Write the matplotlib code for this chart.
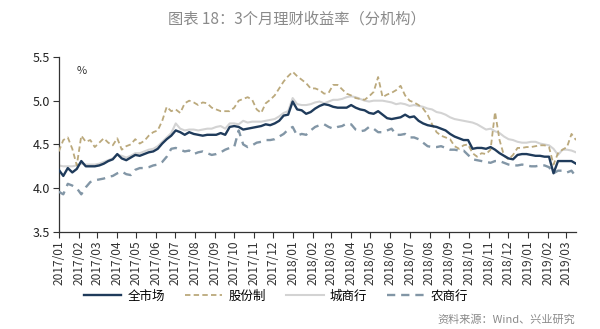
import numpy as np
import pandas as pd
import matplotlib
matplotlib.use("Agg")
import matplotlib.pyplot as plt
import matplotlib.dates as mdates

plt.rcParams['font.family'] = ['Noto Sans CJK SC', 'DejaVu Sans']

dates = pd.date_range("2017-01-01", periods=116, freq="W-SUN")

quanshichang = [
    4.21, 4.14, 4.23, 4.18, 4.22, 4.31, 4.25, 4.25, 4.25, 4.26,
    4.28, 4.31, 4.33, 4.39, 4.34, 4.32, 4.35, 4.38, 4.37, 4.39,
    4.41, 4.42, 4.45, 4.51, 4.56, 4.60, 4.66, 4.64, 4.61, 4.64,
    4.62, 4.61, 4.60, 4.61, 4.61, 4.61, 4.63, 4.61, 4.70, 4.71,
    4.70, 4.67, 4.68, 4.69, 4.70, 4.71, 4.73, 4.72, 4.74, 4.77,
    4.83, 4.84, 4.99, 4.90, 4.89, 4.85, 4.87, 4.91, 4.94, 4.96,
    4.95, 4.93, 4.92, 4.92, 4.92, 4.95, 4.92, 4.90, 4.89, 4.86,
    4.85, 4.88, 4.84, 4.80, 4.79, 4.80, 4.81, 4.84, 4.81, 4.82,
    4.77, 4.74, 4.72, 4.71, 4.70, 4.68, 4.66, 4.62, 4.59, 4.57,
    4.55, 4.55, 4.45, 4.46, 4.46, 4.45, 4.47, 4.44, 4.40, 4.37,
    4.34, 4.33, 4.38, 4.39, 4.39, 4.38, 4.37, 4.37, 4.36, 4.36,
    4.17, 4.31, 4.31, 4.31, 4.31, 4.28,
]

gufenzhi = [
    4.42, 4.55, 4.58, 4.45, 4.26, 4.60, 4.53, 4.55, 4.47, 4.52,
    4.57, 4.52, 4.49, 4.57, 4.44, 4.48, 4.50, 4.56, 4.51, 4.54,
    4.60, 4.64, 4.66, 4.77, 4.93, 4.88, 4.90, 4.86, 4.97, 5.00,
    4.98, 4.95, 4.98, 4.97, 4.92, 4.90, 4.88, 4.88, 4.88, 4.92,
    5.00, 5.02, 5.04, 5.01, 4.90, 4.86, 4.97, 5.01, 5.06, 5.14,
    5.22, 5.28, 5.33, 5.28, 5.24, 5.20, 5.14, 5.14, 5.12, 5.08,
    5.09, 5.18, 5.18, 5.13, 5.08, 5.06, 5.03, 5.02, 5.01, 5.05,
    5.10, 5.27, 5.04, 5.07, 5.09, 5.12, 5.17, 5.06, 5.00, 4.98,
    4.95, 4.91, 4.84, 4.73, 4.64, 4.60, 4.58, 4.56, 4.48, 4.45,
    4.49, 4.50, 4.40, 4.36, 4.40, 4.39, 4.44, 4.87, 4.55, 4.37,
    4.33, 4.38, 4.46, 4.46, 4.47, 4.47, 4.48, 4.49, 4.49, 4.47,
    4.27, 4.40, 4.44, 4.47, 4.62, 4.55,
]

chengshanghang = [
    4.26, 4.25, 4.25, 4.25, 4.26, 4.28, 4.27, 4.27, 4.27, 4.28,
    4.30, 4.32, 4.34, 4.38, 4.37, 4.35, 4.37, 4.40, 4.40, 4.42,
    4.44, 4.45, 4.48, 4.53, 4.58, 4.63, 4.74, 4.68, 4.66, 4.67,
    4.67, 4.66, 4.67, 4.68, 4.68, 4.70, 4.71, 4.68, 4.74, 4.74,
    4.73, 4.77, 4.75, 4.76, 4.76, 4.76, 4.77, 4.78, 4.79, 4.82,
    4.86, 4.88, 5.03, 4.96, 4.95, 4.95, 4.96, 4.98, 4.99, 4.97,
    4.99, 5.01, 5.01, 5.02, 5.04, 5.05, 5.04, 5.02, 5.00, 4.99,
    5.00, 5.00, 5.00, 4.99, 4.98, 4.96, 4.97, 4.96, 4.94, 4.95,
    4.94, 4.93, 4.91, 4.90, 4.87, 4.86, 4.84, 4.81, 4.79, 4.78,
    4.77, 4.76, 4.75, 4.73, 4.70, 4.67, 4.68, 4.65, 4.63, 4.59,
    4.56, 4.55, 4.53, 4.52, 4.52, 4.53, 4.53, 4.51, 4.50, 4.49,
    4.45, 4.38, 4.44, 4.44, 4.43, 4.41,
]

nongshanghang = [
    3.96, 3.93, 4.05, 4.03, 4.00, 3.93, 4.01, 4.07, 4.09, 4.10,
    4.11, 4.13, 4.14, 4.17, 4.19, 4.16, 4.15, 4.21, 4.23, 4.23,
    4.24, 4.26, 4.27, 4.30, 4.36, 4.45, 4.46, 4.44, 4.42, 4.43,
    4.39, 4.41, 4.42, 4.40, 4.38, 4.39, 4.41, 4.44, 4.46, 4.47,
    4.66, 4.50, 4.47, 4.49, 4.52, 4.53, 4.55, 4.55, 4.56, 4.59,
    4.62, 4.67, 4.70, 4.60, 4.62, 4.61, 4.66, 4.70, 4.72, 4.73,
    4.70, 4.68, 4.70, 4.71, 4.74, 4.73, 4.67, 4.65, 4.66, 4.70,
    4.68, 4.64, 4.64, 4.66, 4.68, 4.61, 4.61, 4.62, 4.58, 4.58,
    4.56, 4.52, 4.48, 4.47, 4.47, 4.48, 4.46, 4.44, 4.44, 4.43,
    4.43, 4.38, 4.33, 4.32, 4.31, 4.30, 4.29, 4.31, 4.31, 4.29,
    4.27, 4.26, 4.26, 4.27, 4.26, 4.25, 4.25, 4.26, 4.26, 4.24,
    4.17, 4.20, 4.20, 4.18, 4.20, 4.13,
]

series_names = ["全市场", "股份制", "城商行", "农商行"]
tick_dates = pd.date_range("2017-01-01", "2019-03-01", freq="MS")
tick_labels = [d.strftime("%Y/%m") for d in tick_dates]
y_ticks = [3.5, 4.0, 4.5, 5.0, 5.5]

fig = plt.figure(figsize=(6.0, 3.29), dpi=100)
ax = fig.add_axes([0.098, 0.295, 0.862, 0.532])

l1, = ax.plot(dates, quanshichang, color="#1f3b5b", lw=1.7, zorder=5)
l2, = ax.plot(dates, gufenzhi, color="#bba97c", lw=1.3, ls=(0, (3, 1.8)), zorder=3)
l3, = ax.plot(dates, chengshanghang, color="#d3d3d3", lw=1.5, zorder=2)
l4, = ax.plot(dates, nongshanghang, color="#8296a6", lw=1.7, ls=(0, (3.5, 2.5)), zorder=4)

ax.set_xlim(dates[0], dates[-1])
ax.set_ylim(3.5, 5.5)
ax.set_yticks(y_ticks)
ax.set_yticklabels([f"{v:.1f}" for v in y_ticks], fontsize=9, color="#222222")
ax.set_xticks(tick_dates)
ax.set_xticklabels(tick_labels, rotation=90, fontsize=8.6, color="#333333")
ax.tick_params(axis="both", direction="out", length=4, width=0.8, color="#333333", pad=2)
for s in ["top", "right"]:
    ax.spines[s].set_visible(False)
for s in ["left", "bottom"]:
    ax.spines[s].set_color("#333333")
    ax.spines[s].set_linewidth(0.9)

ax.text(0.035, 0.9, "%", transform=ax.transAxes, fontsize=8, color="#333333")

fig.text(0.495, 0.942, "图表 18：3个月理财收益率（分机构）", ha="center", va="center",
         fontsize=11, color="#8a8a8a")

fig.legend([l1, l2, l3, l4], series_names, loc="center", bbox_to_anchor=(0.46, 0.1),
           ncol=4, frameon=False, fontsize=9, handlelength=3.0, columnspacing=1.6,
           handletextpad=0.5)

fig.text(0.958, 0.028, "资料来源：Wind、兴业研究", ha="right", va="center",
         fontsize=8, color="#8a8a8a")

fig.savefig("out.png", dpi=100, facecolor="white")
